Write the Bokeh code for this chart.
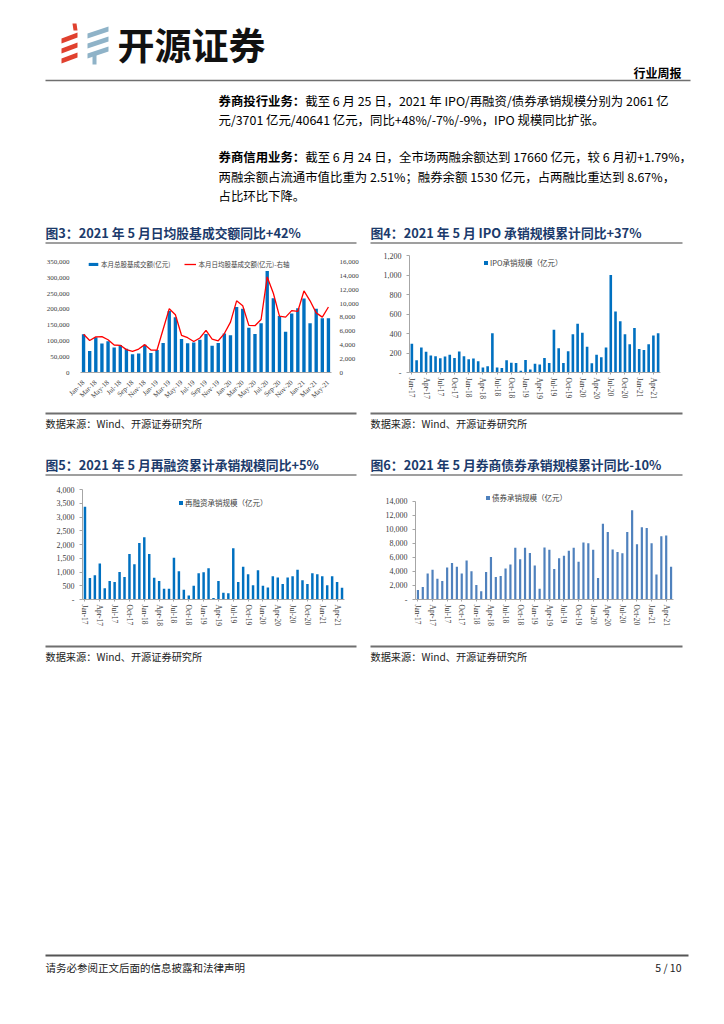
import math
from bokeh.plotting import figure
from bokeh.layouts import column, row
from bokeh.models import (Range1d, LinearAxis, FixedTicker, NumeralTickFormatter,
                          Legend, LegendItem, Spacer)
from bokeh.core.properties import value
from bokeh.embed import file_html
from bokeh.resources import INLINE

# ---------------- data ----------------
MON = ["Jan", "Feb", "Mar", "Apr", "May", "Jun", "Jul", "Aug", "Sep", "Oct", "Nov", "Dec"]
months_18_21 = [f"{m}-{y}" for y in ("18", "19", "20", "21") for m in MON][:41]      # Jan-18 .. May-21
months_17_21 = [f"{m}-{y}" for y in ("17", "18", "19", "20", "21") for m in MON][:53]  # Jan-17 .. May-21

# 图3: 本月总股基成交额(亿元) / 本月日均股基成交额(亿元)
turnover_total = [121000, 68000, 112000, 92000, 99000, 79000, 87000, 75000, 58000, 60000,
                  88000, 62000, 71000, 94000, 195000, 175000, 106000, 93000, 95000, 104000,
                  122000, 85000, 94000, 124000, 118000, 208000, 202000, 142000, 122000, 156000,
                  322000, 236000, 179000, 129000, 187000, 204000, 235000, 156000, 202000, 172000,
                  172000]
turnover_daily = [5550, 4650, 5170, 5200, 4750, 3990, 3940, 3320, 3070, 3400,
                  4040, 3250, 3260, 6270, 9260, 8380, 5400, 5050, 4500, 5000,
                  6100, 4840, 4600, 5650, 7310, 10400, 9690, 6840, 6790, 7690,
                  13860, 11500, 8170, 8030, 8980, 8880, 11830, 10400, 8650, 8030,
                  9500]
# 图4: IPO承销规模(亿元)
ipo = [295, 125, 257, 212, 174, 167, 146, 163, 181, 150,
       216, 167, 136, 143, 115, 52, 63, 403, 52, 45,
       125, 101, 97, 17, 129, 31, 90, 83, 150, 97,
       438, 250, 97, 219, 393, 501, 407, 264, 94, 181,
       157, 257, 1000, 626, 525, 393, 289, 456, 240, 230,
       289, 379, 403]
# 图5: 再融资承销规模(亿元)
refi = [3370, 779, 885, 1310, 413, 673, 637, 1003, 814, 1652,
        1286, 2053, 2265, 1652, 790, 673, 389, 389, 1522, 1027,
        354, 142, 496, 956, 991, 1133, 59, 673, 248, 224,
        1864, 637, 1192, 920, 519, 1062, 496, 437, 850, 802,
        566, 802, 850, 1086, 696, 566, 956, 920, 850, 519,
        850, 637, 425]
# 图6: 债券承销规模(亿元)
bond = [1336, 1781, 3710, 4254, 2968, 2622, 4551, 5194, 4650, 3710,
        5541, 4007, 2078, 1187, 3908, 6035, 3216, 3364, 4403, 4996,
        7371, 5738, 7371, 6629, 4848, 1534, 7420, 7074, 4353, 5887,
        6233, 6926, 7371, 5392, 8113, 8014, 7074, 3067, 10784, 9597,
        7124, 6777, 6579, 9597, 12714, 7866, 10290, 10191, 8014, 3562,
        9004, 9102, 4650]

titles = ["图3：2021 年 5 月日均股基成交额同比+42%",
          "图4：2021 年 5 月 IPO 承销规模累计同比+37%",
          "图5：2021 年 5 月再融资累计承销规模同比+5%",
          "图6：2021 年 5 月券商债券承销规模累计同比-10%"]
source_text = "数据来源：Wind、开源证券研究所"

CJK_NAME = "Noto Sans CJK SC"
CJK = value(CJK_NAME)
SERIF = "Liberation Serif"
BLUE = "#0070C0"
BLUE2 = "#4F81BD"
NAVY = "#1B3A6B"
GRAY = "#7F7F7F"


def canvas(w, h):
    p = figure(width=w, height=h, x_range=Range1d(0, w), y_range=Range1d(h, 0),
               output_backend="svg", toolbar_location=None, min_border=0,
               x_axis_location=None, y_axis_location=None)
    p.outline_line_color = None
    p.grid.visible = False
    return p


def txt(p, x, y, s, size, color="#000000", bold=False, align="left"):
    p.text(x=[x], y=[y], text=[s], text_font=CJK, text_font_size=f"{size}px",
           text_color=color, text_align=align, text_baseline="middle",
           text_font_style="bold" if bold else "normal")


# ---------------- header ----------------
hdr = canvas(708, 210)
for dy in (0, 10, 20):
    hdr.patch([53, 69, 69, 53], [30 + dy, 24 + dy, 29 + dy, 35 + dy], color="#E0412F", line_color=None)
hdr.patch([64, 68, 69, 65], [15, 15, 22, 22], color="#E0412F", line_color=None)
for dy in (0, 10, 20):
    hdr.patch([79, 100, 100, 79], [25 + dy, 18 + dy, 23 + dy, 30 + dy], color="#8FB3C8", line_color=None)
hdr.patch([84, 88, 88, 84], [45, 45, 56, 56], color="#8FB3C8", line_color=None)
txt(hdr, 109, 35, "开源证券", 37, "#111111", bold=True)
txt(hdr, 673, 64, "行业周报", 12, "#000000", bold=True, align="right")
hdr.line([37, 682], [72, 72], line_color="#6F6F6F", line_width=1.6)

para = [
    (92, "券商投行业务：", "截至 6 月 25 日，2021 年 IPO/再融资/债券承销规模分别为 2061 亿"),
    (111, "", "元/3701 亿元/40641 亿元，同比+48%/-7%/-9%，IPO 规模同比扩张。"),
    (148, "券商信用业务：", "截至 6 月 24 日，全市场两融余额达到 17660 亿元，较 6 月初+1.79%，"),
    (168, "", "两融余额占流通市值比重为 2.51%；融券余额 1530 亿元，占两融比重达到 8.67%，"),
    (187, "", "占比环比下降。"),
]
PX = 210
for y, b, t in para:
    if b:
        txt(hdr, PX, y, b, 12.4, "#000000", bold=True)
        txt(hdr, PX + 7 * 12.4, y, t, 12.4)
    else:
        txt(hdr, PX, y, t, 12.4)


# ---------------- helpers for charts ----------------
def title_strip(w, x0, x1, s):
    p = canvas(w, 30)
    txt(p, x0, 13.5, s, 12.8, NAVY, bold=True)
    p.line([x0, x1], [24.5, 24.5], line_color=GRAY, line_width=1.5)
    return p


def source_strip(w, h, x0, x1):
    p = canvas(w, h)
    p.line([x0, x1], [3, 3], line_color="#6F6F6F", line_width=2)
    txt(p, x0, 12.5, source_text, 10.2, "#222222")
    return p


def style_axis(ax, size):
    ax.major_label_text_font = SERIF
    ax.major_label_text_font_size = f"{size}px"
    ax.major_label_text_color = "#404040"


def bar_chart(w, h, cats, vals, ymax, ytop, ystep, borders, color, bar_w, step):
    n = len(cats)
    l, r, t, b = borders
    p = figure(width=w, height=h, x_range=Range1d(-0.5, n - 0.5), y_range=Range1d(0, ytop),
               output_backend="svg", toolbar_location=None,
               min_border_left=l, min_border_right=r, min_border_top=t, min_border_bottom=b)
    p.outline_line_color = None
    p.grid.visible = False
    xs = list(range(n))
    rb = p.vbar(x=xs, top=vals, width=bar_w, fill_color=color, line_color=None)
    ya = p.yaxis[0]
    ya.ticker = FixedTicker(ticks=list(range(0, ymax + 1, ystep)))
    ya.formatter = NumeralTickFormatter(format="0,0")
    ya.major_label_overrides = {0: "-"}
    ya.bounds = (0, ymax)
    ya.axis_line_color = "#A6A6A6"
    ya.major_tick_line_color = "#A6A6A6"
    ya.major_tick_in = 0
    ya.major_tick_out = 3
    ya.minor_tick_line_color = None
    ya.major_label_standoff = 5
    style_axis(ya, 8)
    xa = p.xaxis[0]
    ticks = [i for i in xs if i % step == 0]
    xa.ticker = FixedTicker(ticks=ticks)
    xa.major_label_overrides = {i: cats[i] for i in ticks}
    xa.axis_line_color = "#A6A6A6"
    xa.major_tick_line_color = "#A6A6A6"
    xa.major_tick_in = 0
    xa.major_tick_out = 2
    xa.minor_tick_line_color = None
    xa.major_label_orientation = "vertical"
    xa.major_label_standoff = 3
    style_axis(xa, 7.5)
    return p, rb


def add_legend(p, items, loc, orientation="vertical", gw=5, gh=5, size=7.5):
    lg = Legend(items=items, location=loc, orientation=orientation,
                glyph_width=gw, glyph_height=gh, label_text_font=CJK_NAME,
                label_text_font_size=f"{size}px", label_text_color="#404040",
                padding=0, margin=0, spacing=14, label_standoff=2,
                background_fill_alpha=0, border_line_alpha=0, label_height=10)
    p.add_layout(lg)


# row 1: page y 248..410, frames 255..372 ; row 2: page y 480..643, frames 489..599
# ---------------- 图3 ----------------
n3 = len(months_18_21)
Y3_TOP = 371260
YR_TOP = 16972
c3 = figure(width=354, height=162, x_range=Range1d(-0.5, n3 - 0.5), y_range=Range1d(0, Y3_TOP),
            output_backend="svg", toolbar_location=None,
            min_border_left=72, min_border_right=31, min_border_top=7, min_border_bottom=38)
c3.outline_line_color = None
c3.grid.visible = False
c3.extra_y_ranges = {"r": Range1d(0, YR_TOP)}
x3 = list(range(n3))
r3b = c3.vbar(x=x3, top=turnover_total, width=0.55, fill_color=BLUE, line_color=None)
r3l = c3.line(x=x3, y=turnover_daily, y_range_name="r", line_color="#FF0000", line_width=1.3)
ya = c3.yaxis[0]
ya.ticker = FixedTicker(ticks=list(range(0, 350001, 50000)))
ya.formatter = NumeralTickFormatter(format="0,0")
ya.axis_line_color = None
ya.major_tick_line_color = None
ya.minor_tick_line_color = None
ya.major_label_standoff = 5
style_axis(ya, 7)
ra = LinearAxis(y_range_name="r", ticker=FixedTicker(ticks=list(range(0, 16001, 2000))),
                formatter=NumeralTickFormatter(format="0,0"))
ra.axis_line_color = None
ra.major_tick_line_color = None
ra.minor_tick_line_color = None
ra.major_label_standoff = 2
style_axis(ra, 7)
c3.add_layout(ra, "right")
xa = c3.xaxis[0]
t3 = [i for i in x3 if i % 2 == 0]
xa.ticker = FixedTicker(ticks=t3)
xa.major_label_overrides = {i: months_18_21[i] for i in t3}
xa.axis_line_color = "#A6A6A6"
xa.major_tick_line_color = None
xa.minor_tick_line_color = None
xa.major_label_orientation = math.pi / 4
xa.major_label_standoff = 3
style_axis(xa, 7)
add_legend(c3, [LegendItem(label="本月总股基成交额(亿元)", renderers=[r3b]),
                LegendItem(label="本月日均股基成交额(亿元)-右轴", renderers=[r3l])],
           (7, 103), orientation="horizontal", gw=12, gh=4, size=6.5)

# ---------------- 图4 ----------------
c4, r4 = bar_chart(354, 162, months_17_21, ipo, 1200, 1200, 200, (47, 56, 7, 38), BLUE, 0.55, 3)
add_legend(c4, [LegendItem(label="IPO承销规模（亿元）", renderers=[r4])], (74, 104))

# ---------------- 图5 ----------------
c5, r5 = bar_chart(354, 163, months_17_21, refi, 4000, 4000, 500, (74, 18, 9, 44), BLUE, 0.5, 3)
add_legend(c5, [LegendItem(label="再融资承销规模（亿元）", renderers=[r5])], (96, 91))

# ---------------- 图6 ----------------
c6, r6 = bar_chart(354, 163, months_17_21, bond, 14000, 15666, 2000, (53, 43, 9, 44), BLUE2, 0.45, 3)
add_legend(c6, [LegendItem(label="债券承销规模（亿元）", renderers=[r6])], (70, 96))

# ---------------- footer ----------------
ftr = canvas(708, 30)
ftr.line([37, 680], [5, 5], line_color="#555555", line_width=2)
txt(ftr, 37, 16.5, "请务必参阅正文后面的信息披露和法律声明", 10.5, "#222222")
txt(ftr, 673, 16.5, "5 / 10", 10.5, "#222222", align="right")

page = column(
    hdr,
    row(title_strip(354, 37, 348, titles[0]), title_strip(354, 8, 320, titles[1]), spacing=0),
    row(c3, c4, spacing=0),
    row(source_strip(354, 40, 37, 348), source_strip(354, 40, 8, 320), spacing=0),
    row(title_strip(354, 37, 348, titles[2]), title_strip(354, 8, 320, titles[3]), spacing=0),
    row(c5, c6, spacing=0),
    row(source_strip(354, 37, 37, 348), source_strip(354, 37, 8, 320), spacing=0),
    Spacer(width=708, height=270),
    ftr,
    spacing=0,
)
layout = row(Spacer(width=8, height=8), column(Spacer(width=8, height=8), page, spacing=0), spacing=0)

open("out.html", "w").write(file_html(layout, INLINE))
